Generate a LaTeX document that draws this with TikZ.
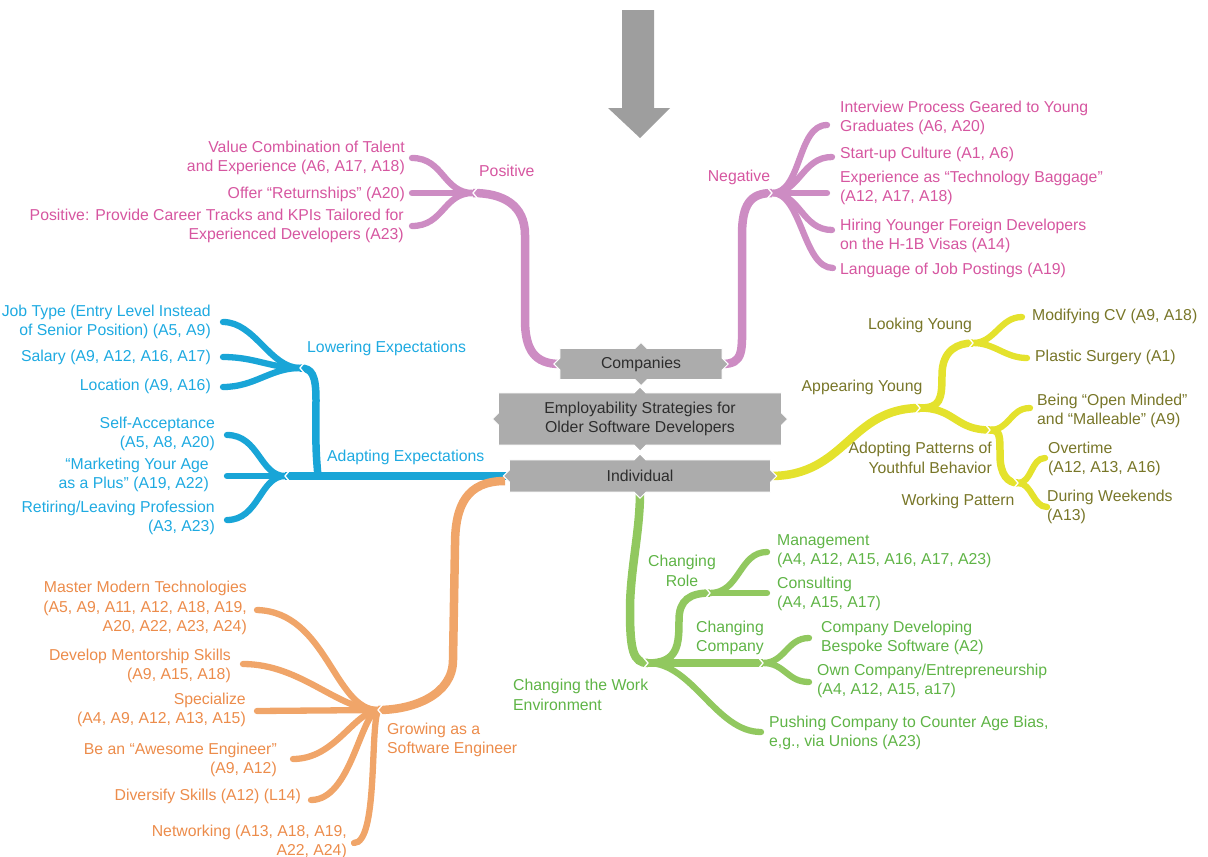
\documentclass[tikz,border=0pt]{standalone}
\usepackage{fontspec}
\setmainfont{Liberation Sans}
\usetikzlibrary{backgrounds}
\definecolor{pinkB}{RGB}{205,140,195}
\definecolor{pinkT}{RGB}{214,86,160}
\definecolor{blueB}{RGB}{25,165,215}
\definecolor{blueT}{RGB}{30,170,225}
\definecolor{yellowB}{RGB}{228,226,45}
\definecolor{yellowT}{RGB}{120,118,40}
\definecolor{greenB}{RGB}{145,200,95}
\definecolor{greenT}{RGB}{95,180,70}
\definecolor{orangeB}{RGB}{240,165,105}
\definecolor{orangeT}{RGB}{236,140,75}
\definecolor{boxgray}{RGB}{172,172,172}
\definecolor{arrowgray}{RGB}{158,158,158}
\definecolor{boxtext}{RGB}{45,45,45}
\newcommand\fsz{\fontsize{15.8}{19.5}\selectfont}
\newcommand\chevR[1]{\draw[chev] (#1) ++(-5,-6) -- (#1) -- ++(-5,6);}
\newcommand\chevL[1]{\draw[chev] (#1) ++(5,-6) -- (#1) -- ++(5,6);}
\newcommand\mybox[1]{\filldraw[fill=boxgray, draw=white, line width=1pt] (#1.north west) -- ([xshift=-6pt]#1.north) -- ([yshift=6pt]#1.north) -- ([xshift=6pt]#1.north) -- (#1.north east) -- ([yshift=6pt]#1.east) -- ([xshift=6pt]#1.east) -- ([yshift=-6pt]#1.east) -- (#1.south east) -- ([xshift=6pt]#1.south) -- ([yshift=-6pt]#1.south) -- ([xshift=-6pt]#1.south) -- (#1.south west) -- ([yshift=-6pt]#1.west) -- ([xshift=-6pt]#1.west) -- ([yshift=6pt]#1.west) -- cycle;}
\begin{document}
\begin{tikzpicture}[x=1pt,y=-1pt,
  txt/.style={inner sep=0pt, font=\fsz},
  lt/.style={txt, anchor=west, align=left},
  rt/.style={txt, anchor=east, align=right},
  ct/.style={txt, align=center},
  boxnode/.style={inner sep=0pt, font=\fsz, text=boxtext},
  trunk/.style={line width=8.5pt},
  br/.style={line width=7.5pt},
  leaf/.style={line width=6.3pt, line cap=round},
  chev/.style={draw=white, line width=1.3pt}]
\useasboundingbox (0,0) rectangle (1208,857);

% central boxes
\node[boxnode, minimum width=162pt, minimum height=31pt] (comp) at (641,364) {Companies};
\node[boxnode, minimum width=283pt, minimum height=52pt, align=center] (core) at (640,419) {Employability Strategies for\\Older Software Developers};
\node[boxnode, minimum width=261pt, minimum height=32pt] (indiv) at (640,476) {Individual};

% top arrow
\fill[arrowgray] (622,10) -- (654,10) -- (654,108) -- (670,108) -- (640,138) -- (608,108) -- (622,108) -- cycle;

% coordinates
\coordinate (pL) at (473,193);
\coordinate (tpos1) at (412,158);
\coordinate (tpos2) at (412,193);
\coordinate (tpos3) at (412,226);
\coordinate (pR) at (772,193);
\coordinate (tneg1) at (827,125);
\coordinate (tneg2) at (832,157);
\coordinate (tneg3) at (827,193);
\coordinate (tneg4) at (832,230);
\coordinate (tneg5) at (833,268);
\coordinate (pA) at (285,476);
\coordinate (pA2) at (318,476);
\coordinate (pLow) at (300,368);
\coordinate (tlow1) at (223,322);
\coordinate (tlow2) at (223,357);
\coordinate (tlow3) at (223,387);
\coordinate (tad1) at (227,435);
\coordinate (tad2) at (227,476);
\coordinate (tad3) at (227,520);
\coordinate (oS) at (505,481);
\coordinate (pG) at (378,710);
\coordinate (tg1) at (257,610);
\coordinate (tg2) at (243,664);
\coordinate (tg3) at (257,711);
\coordinate (tg4) at (293,759);
\coordinate (tg5) at (311,800);
\coordinate (tg6) at (354,843);
\coordinate (pW) at (648,663);
\coordinate (pRole) at (710,593);
\coordinate (pComp) at (763,663);
\coordinate (tr1) at (767,552);
\coordinate (tr2) at (767,593);
\coordinate (tc1) at (809,638);
\coordinate (tc2) at (809,682);
\coordinate (tpush) at (761,732);
\coordinate (pApp) at (920,408);
\coordinate (pLook) at (973,343);
\coordinate (pAdopt) at (990,430);
\coordinate (pWork) at (1018,483);
\coordinate (ty1) at (1022,317);
\coordinate (ty2) at (1027,358);
\coordinate (ty3) at (1030,408);
\coordinate (ty4) at (1045,458);
\coordinate (ty5) at (1047,507);

\begin{scope}[on background layer]
% pink - positive
\draw[pinkB, trunk] (comp.west) .. controls +(-25,0) and +(0,30) .. (525,320) -- (525,235) .. controls +(0,-30) and +(30,0) .. (pL);
\draw[pinkB, leaf] (pL) .. controls +(-30,0) and +(32,0) .. (tpos1);
\draw[pinkB, leaf] (pL) -- (tpos2);
\draw[pinkB, leaf] (pL) .. controls +(-30,0) and +(32,0) .. (tpos3);
% pink - negative
\draw[pinkB, trunk] (comp.east) .. controls +(22,0) and +(0,30) .. (742,320) -- (742,235) .. controls +(0,-30) and +(-22,0) .. (pR);
\draw[pinkB, leaf] (pR) .. controls +(30,0) and +(-30,0) .. (tneg1);
\draw[pinkB, leaf] (pR) .. controls +(28,0) and +(-30,0) .. (tneg2);
\draw[pinkB, leaf] (pR) -- (tneg3);
\draw[pinkB, leaf] (pR) .. controls +(28,0) and +(-30,0) .. (tneg4);
\draw[pinkB, leaf] (pR) .. controls +(30,0) and +(-30,0) .. (tneg5);
% blue
\draw[blueB, trunk] (indiv.west) -- (pA);
\draw[blueB, br] (pA2) .. controls +(-3,-30) and +(0,30) .. (316,400) .. controls +(0,-25) and +(12,0) .. (pLow);
\draw[blueB, leaf] (pLow) .. controls +(-30,0) and +(32,0) .. (tlow1);
\draw[blueB, leaf] (pLow) .. controls +(-30,0) and +(32,0) .. (tlow2);
\draw[blueB, leaf] (pLow) .. controls +(-30,0) and +(32,0) .. (tlow3);
\draw[blueB, leaf] (pA) .. controls +(-25,0) and +(32,0) .. (tad1);
\draw[blueB, leaf] (pA) -- (tad2);
\draw[blueB, leaf] (pA) .. controls +(-25,0) and +(32,0) .. (tad3);
% orange
\draw[orangeB, trunk] (oS) .. controls +(-38,0) and +(0,-40) .. (455,545) -- (453,660) .. controls +(0,35) and +(35,0) .. (pG);
\draw[orangeB, leaf] (pG) .. controls +(-44,0) and +(70,2) .. (tg1);
\draw[orangeB, leaf] (pG) .. controls +(-40,0) and +(58,0) .. (tg2);
\draw[orangeB, leaf] (pG) -- (tg3);
\draw[orangeB, leaf] (pG) .. controls +(-25,3) and +(42,0) .. (tg4);
\draw[orangeB, leaf] (pG) .. controls +(-18,5) and +(40,0) .. (tg5);
\draw[orangeB, leaf] (pG) .. controls +(-8,20) and +(24,0) .. (tg6);
% green
\draw[greenB, trunk] (indiv.south) .. controls +(0,40) and +(0,-40) .. (630,610) .. controls +(0,40) and +(-15,0) .. (pW);
\draw[greenB, br] (pW) .. controls +(30,0) and +(0,25) .. (679,620) .. controls +(0,-20) and +(-20,0) .. (pRole);
\draw[greenB, br] (pW) -- (pComp);
\draw[greenB, leaf] (pRole) .. controls +(30,0) and +(-28,0) .. (tr1);
\draw[greenB, leaf] (pRole) -- (tr2);
\draw[greenB, leaf] (pComp) .. controls +(22,0) and +(-22,0) .. (tc1);
\draw[greenB, leaf] (pComp) .. controls +(22,0) and +(-22,0) .. (tc2);
\draw[greenB, leaf] (pW) .. controls +(45,0) and +(-45,0) .. (tpush);
% yellow
\draw[yellowB, trunk] (indiv.east) .. controls +(75,0) and +(-70,0) .. (pApp);
\draw[yellowB, br] (pApp) .. controls +(20,0) and +(0,25) .. (942,375) .. controls +(0,-25) and +(-15,0) .. (pLook);
\draw[yellowB, br] (pApp) .. controls +(35,0) and +(-35,0) .. (pAdopt);
\draw[yellowB, leaf] (pLook) .. controls +(22,0) and +(-22,0) .. (ty1);
\draw[yellowB, leaf] (pLook) .. controls +(22,0) and +(-22,0) .. (ty2);
\draw[yellowB, leaf] (pAdopt) .. controls +(20,0) and +(-20,0) .. (ty3);
\draw[yellowB, br] (pAdopt) .. controls +(10,0) and +(0,-20) .. (1000,455) .. controls +(0,20) and +(-10,0) .. (pWork);
\draw[yellowB, leaf] (pWork) .. controls +(14,0) and +(-14,0) .. (ty4);
\draw[yellowB, leaf] (pWork) .. controls +(14,0) and +(-14,0) .. (ty5);
% chevron notches
\chevL{pL} \chevR{pR} \chevL{pLow} \chevL{pA} \chevL{pG}
\chevR{pW} \chevR{pRole} \chevR{pComp} \chevR{pApp} \chevR{pLook} \chevR{pAdopt} \chevR{pWork}
% box shapes
\mybox{comp} \mybox{core} \mybox{indiv}
\end{scope}

% pink labels
\node[lt, pinkT] (lpos) at (479,171) {Positive};
\node[rt, pinkT] (lpos1) at (405,158) {Value Combination of Talent\\and Experience (A6, A17, A18)};
\node[rt, pinkT] (lpos2) at (405,194) {Offer “Returnships” (A20)};
\node[rt, pinkT] (lpos3) at (404,226) {Positive: Provide Career Tracks and KPIs Tailored for\\Experienced Developers (A23)};
\node[ct, pinkT] (lneg) at (739,177) {Negative};
\node[lt, pinkT] (lneg1) at (840,118) {Interview Process Geared to Young\\Graduates (A6, A20)};
\node[lt, pinkT] (lneg2) at (840,154) {Start-up Culture (A1, A6)};
\node[lt, pinkT] (lneg3) at (840,188) {Experience as “Technology Baggage”\\(A12, A17, A18)};
\node[lt, pinkT] (lneg4) at (840,236) {Hiring Younger Foreign Developers\\on the H-1B Visas (A14)};
\node[lt, pinkT] (lneg5) at (840,270) {Language of Job Postings (A19)};
% blue labels
\node[lt, blueT] (llow) at (307,348) {Lowering Expectations};
\node[lt, blueT] (lad) at (327,457) {Adapting Expectations};
\node[rt, blueT] (llow1) at (211,322) {Job Type (Entry Level Instead\\of Senior Position) (A5, A9)};
\node[rt, blueT] (llow2) at (211,357) {Salary (A9, A12, A16, A17)};
\node[rt, blueT] (llow3) at (211,386) {Location (A9, A16)};
\node[rt, blueT] (lad1) at (215,434) {Self-Acceptance\\(A5, A8, A20)};
\node[rt, blueT] (lad2) at (209,475) {“Marketing Your Age\\as a Plus” (A19, A22)};
\node[rt, blueT] (lad3) at (215,518) {Retiring/Leaving Profession\\(A3, A23)};
% orange labels
\node[lt, orangeT] (lgrow) at (387,740) {Growing as a\\Software Engineer};
\node[rt, orangeT] (lg1) at (247,608) {Master Modern Technologies\\(A5, A9, A11, A12, A18, A19,\\A20, A22, A23, A24)};
\node[rt, orangeT] (lg2) at (231,666) {Develop Mentorship Skills\\(A9, A15, A18)};
\node[rt, orangeT] (lg3) at (246,710) {Specialize\\(A4, A9, A12, A13, A15)};
\node[rt, orangeT] (lg4) at (277,760) {Be an “Awesome Engineer”\\(A9, A12)};
\node[rt, orangeT] (lg5) at (301,796) {Diversify Skills (A12) (L14)};
\node[rt, orangeT] (lg6) at (347,842) {Networking (A13, A18, A19,\\A22, A24)};
% green labels
\node[lt, greenT] (lwork) at (513,695) {Changing the Work\\Environment};
\node[ct, greenT] (lrole) at (682,571) {Changing\\Role};
\node[ct, greenT] (lcomp) at (730,638) {Changing\\Company};
\node[lt, greenT] (lr1) at (777,551) {Management\\(A4, A12, A15, A16, A17, A23)};
\node[lt, greenT] (lr2) at (777,594) {Consulting\\(A4, A15, A17)};
\node[lt, greenT] (lc1) at (821,638) {Company Developing\\Bespoke Software (A2)};
\node[lt, greenT] (lc2) at (817,681) {Own Company/Entrepreneurship\\(A4, A12, A15, a17)};
\node[lt, greenT] (lpush) at (769,733) {Pushing Company to Counter Age Bias,\\e,g., via Unions (A23)};
% yellow labels
\node[ct, yellowT] (llook) at (920,325) {Looking Young};
\node[ct, yellowT] (lapp) at (862,387) {Appearing Young};
\node[rt, yellowT] (ladopt) at (992,458) {Adopting Patterns of\\Youthful Behavior};
\node[ct, yellowT] (lwp) at (958,501) {Working Pattern};
\node[lt, yellowT] (ly1) at (1032,316) {Modifying CV (A9, A18)};
\node[lt, yellowT] (ly2) at (1035,357) {Plastic Surgery (A1)};
\node[lt, yellowT] (ly3) at (1037,411) {Being “Open Minded”\\and “Malleable” (A9)};
\node[lt, yellowT] (ly4) at (1048,459) {Overtime\\(A12, A13, A16)};
\node[lt, yellowT] (ly5) at (1047,507) {During Weekends\\(A13)};
\end{tikzpicture}
\end{document}
